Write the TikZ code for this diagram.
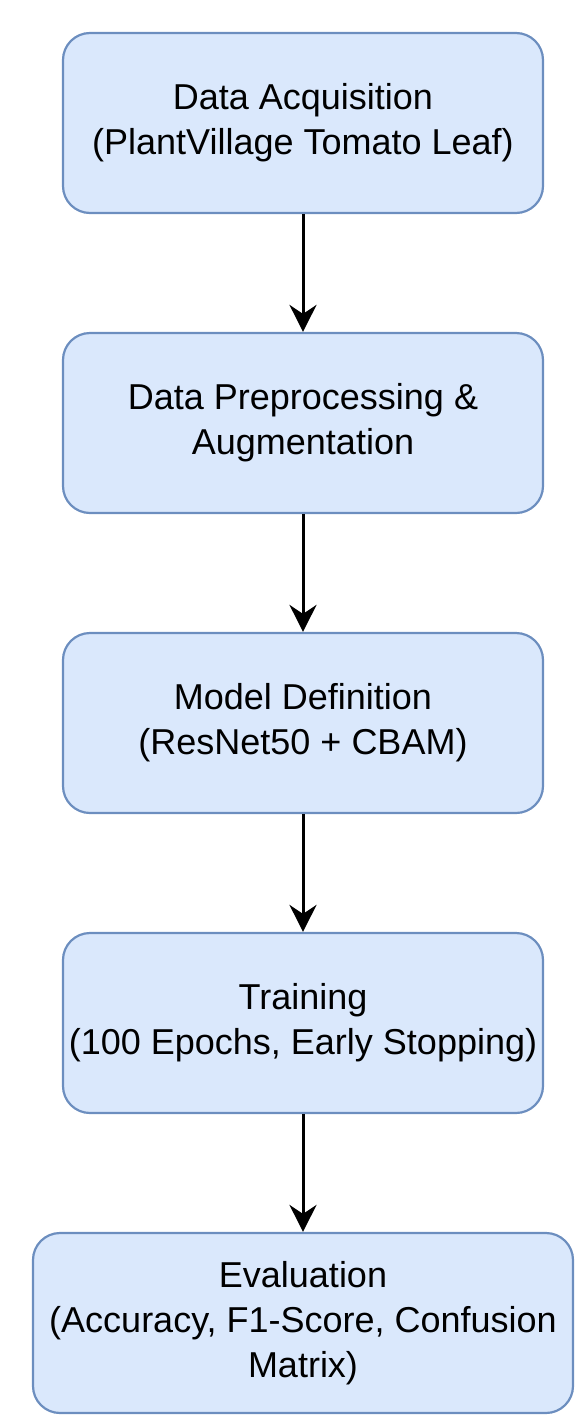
\documentclass[tikz,border=0pt]{standalone}
\usepackage{fontspec}
\setmainfont{Liberation Sans}
\usetikzlibrary{arrows.meta}
\definecolor{stagefill}{HTML}{DAE8FC}
\definecolor{stageline}{HTML}{6C8EBF}
\tikzstyle{arrow} = [-{Stealth[length=27pt,width=27pt,inset=9pt]}, line width=3pt]
\tikzstyle{stage} = [draw=stageline, fill=stagefill, line width=2.2pt, rounded corners=27pt, minimum width=480pt, minimum height=180pt, inner sep=0pt, align=center, font=\fontsize{36pt}{45pt}\selectfont]

\begin{document}
\begin{tikzpicture}[x=1pt,y=-1pt]
        \useasboundingbox (0,0) rectangle (587,1427);
        \node[stage] at (303,123) (acq) {Data Acquisition\\(PlantVillage Tomato Leaf)};
        \node[stage] at (303,423) (prep) {Data Preprocessing \&\\Augmentation};
        \node[stage] at (303,723) (model) {Model Definition\\(ResNet50 + CBAM)};
        \node[stage] at (303,1023) (train) {Training\\(100 Epochs, Early Stopping)};
        \node[stage, minimum width=540pt] at (303,1323) (eval) {Evaluation\\(Accuracy, F1-Score, Confusion\\Matrix)};

        \draw[arrow] (acq) -- (prep);
        \draw[arrow] (prep) -- (model);
        \draw[arrow] (model) -- (train);
        \draw[arrow] (train) -- (eval);

      \end{tikzpicture}
\end{document}
